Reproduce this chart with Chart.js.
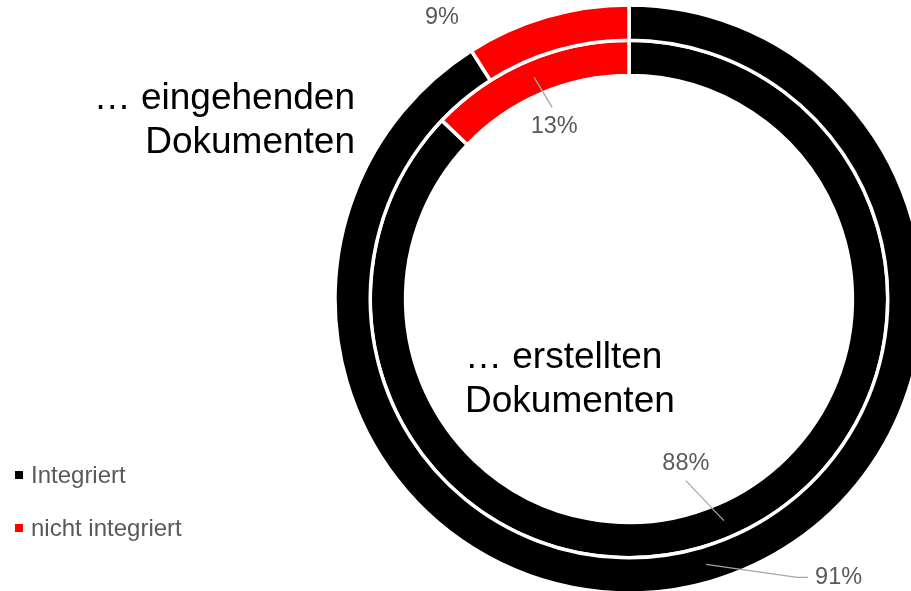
<!DOCTYPE html>
<html>
<head>
<meta charset="utf-8">
<script src="https://cdn.jsdelivr.net/npm/chart.js@4.4.1/dist/chart.umd.min.js"></script>
<style>
  html, body { margin: 0; padding: 0; background: #fff; overflow: hidden; }
  body { width: 911px; height: 591px; position: relative; font-family: "Liberation Sans", Arial, sans-serif; }
  #chart { position: absolute; left: 0; top: 0; }
  .ring-title { position: absolute; font-size: 37px; line-height: 44px; color: #000; white-space: nowrap; }
  #title-outer { right: 556px; top: 75px; text-align: right; }
  #title-inner { left: 465px; top: 334px; text-align: left; }
  .legend-item { position: absolute; left: 15px; font-size: 24px; color: #595959; white-space: nowrap; line-height: 24px; }
  .legend-item span { display: inline-block; width: 8px; height: 8px; margin-right: 8px; vertical-align: middle; position: relative; top: -2px; }
</style>
</head>
<body>
<canvas id="chart" width="911" height="591"></canvas>
<div id="title-outer" class="ring-title"></div>
<div id="title-inner" class="ring-title"></div>
<div id="legend"></div>

<script>
const CATEGORIES = ["Integriert", "nicht integriert"];
const RING_TITLES = ["… eingehenden\nDokumenten", "… erstellten\nDokumenten"];
const EINGEHEND = [91, 9];   // äußerer Ring
const ERSTELLT  = [88, 13];  // innerer Ring
const COLORS = ["#000000", "#ff0000"];

// Position der Beschriftungen relativ zum Ankerpunkt (Mitte des Segments)
const LABEL_POS = [
  [ { line: [[91, 13], [102, 13]], text: [109, 13], align: "left" },
    { line: null, text: [-110, -16], align: "center" } ],
  [ { line: [[-38, -40]], text: [-38, -57], align: "center" },
    { line: [[18, 30]], text: [20, 49], align: "center" } ]
];

document.getElementById("title-outer").innerHTML = RING_TITLES[0].replace("\n", "<br>");
document.getElementById("title-inner").innerHTML = RING_TITLES[1].replace("\n", "<br>");

const legendTops = [463, 516];
document.getElementById("legend").innerHTML = CATEGORIES
  .map((c, i) => `<div class="legend-item" style="top:${legendTops[i]}px"><span style="background:${COLORS[i]}"></span>${c}</div>`)
  .join("");

const pctLabels = {
  id: "pctLabels",
  afterDatasetsDraw(chart) {
    const ctx = chart.ctx;
    ctx.save();
    ctx.font = "23.5px 'Liberation Sans', Arial, sans-serif";
    ctx.fillStyle = "#595959";
    ctx.strokeStyle = "#a6a6a6";
    ctx.lineWidth = 1.3;
    ctx.textBaseline = "middle";
    chart.data.datasets.forEach((ds, di) => {
      const meta = chart.getDatasetMeta(di);
      meta.data.forEach((arc, i) => {
        const p = arc.getProps(["x", "y", "startAngle", "endAngle", "innerRadius", "outerRadius"], true);
        const mid = (p.startAngle + p.endAngle) / 2;
        const r = (p.innerRadius + p.outerRadius) / 2;
        const ax = p.x + Math.cos(mid) * r;
        const ay = p.y + Math.sin(mid) * r;
        const pos = LABEL_POS[di][i];
        if (pos.line) {
          ctx.beginPath();
          ctx.moveTo(ax, ay);
          pos.line.forEach(pt => ctx.lineTo(ax + pt[0], ay + pt[1]));
          ctx.stroke();
        }
        ctx.textAlign = pos.align;
        ctx.fillText(ds.data[i] + "%", ax + pos.text[0], ay + pos.text[1]);
      });
    });
    ctx.restore();
  }
};

new Chart(document.getElementById("chart"), {
  type: "doughnut",
  data: {
    labels: CATEGORIES,
    datasets: [
      { label: "eingehende Dokumente", data: EINGEHEND, backgroundColor: COLORS, borderColor: "#ffffff", borderWidth: 3.5, clip: false },
      { label: "erstellte Dokumente", data: ERSTELLT, backgroundColor: COLORS, borderColor: "#ffffff", borderWidth: 3.5, clip: false }
    ]
  },
  options: {
    responsive: false,
    animation: false,
    events: [],
    radius: 294,
    cutout: "76%",
    layout: { padding: { left: 347, top: 7, right: 0, bottom: 0 } },
    plugins: { legend: { display: false }, tooltip: { enabled: false } }
  },
  plugins: [pctLabels]
});
</script>
</body>
</html>
